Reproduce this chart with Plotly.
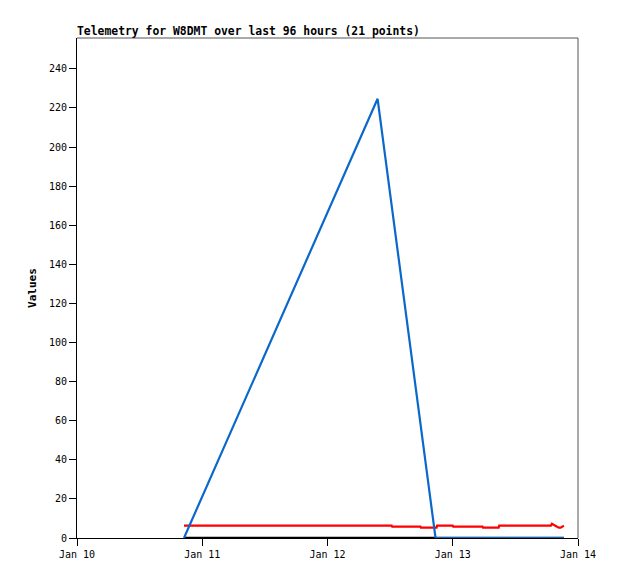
import plotly.graph_objects as go

# Data
black_times = ["2024-01-10 20:30", "2024-01-13 21:18"]
black_values = [0, 0]

blue_times = ["2024-01-10 20:30", "2024-01-12 09:36", "2024-01-12 20:42", "2024-01-13 21:18"]
blue_values = [0, 224.7, 0, 0]

red_times = ["2024-01-10 20:30", "2024-01-12 12:18", "2024-01-12 12:24", "2024-01-12 17:48",
             "2024-01-12 17:54", "2024-01-12 20:54", "2024-01-12 21:00", "2024-01-13 00:00",
             "2024-01-13 00:06", "2024-01-13 05:42", "2024-01-13 05:48", "2024-01-13 08:48",
             "2024-01-13 08:54", "2024-01-13 18:48", "2024-01-13 19:00", "2024-01-13 19:48",
             "2024-01-13 20:18", "2024-01-13 20:42", "2024-01-13 21:18"]
red_values = [6.3, 6.3, 5.8, 5.8, 5.3, 5.3, 6.3, 6.3, 5.8, 5.8, 5.3, 5.3, 6.3, 6.3,
              7.3, 5.8, 5.3, 5.3, 6.3]

x_tickvals = ["2024-01-10", "2024-01-11", "2024-01-12", "2024-01-13", "2024-01-14"]
x_ticktext = ["Jan 10", "Jan 11", "Jan 12", "Jan 13", "Jan 14"]
y_tickvals = list(range(0, 241, 20))

fig = go.Figure()
fig.add_trace(go.Scatter(x=black_times, y=black_values, mode="lines",
                         line=dict(color="#000000", width=2.5), showlegend=False))
fig.add_trace(go.Scatter(x=red_times, y=red_values, mode="lines",
                         line=dict(color="#ff0000", width=2.2), showlegend=False))
fig.add_trace(go.Scatter(x=blue_times, y=blue_values, mode="lines",
                         line=dict(color="#0a68cc", width=2.2), showlegend=False))

mono = "DejaVu Sans Mono"
fig.update_layout(
    width=618, height=579,
    margin=dict(l=77, r=40, t=38, b=41),
    paper_bgcolor="white", plot_bgcolor="white",
    title=dict(text="<b>Telemetry for W8DMT over last 96 hours (21 points)</b>",
               x=77/618, xanchor="left", y=1-31/579, yanchor="middle",
               font=dict(family=mono, size=11.4, color="black")),
    xaxis=dict(type="date", range=["2024-01-10", "2024-01-14"],
               tickvals=x_tickvals, ticktext=x_ticktext,
               ticks="outside", ticklen=7, tickcolor="black", tickwidth=1,
               showgrid=False, zeroline=False, showline=True, linecolor="black", linewidth=1,
               tickfont=dict(family=mono, size=10, color="black")),
    yaxis=dict(range=[0, 255.8], tickvals=y_tickvals,
               ticks="outside", ticklen=7, tickcolor="black", tickwidth=1,
               showgrid=False, zeroline=False, showline=True, linecolor="black", linewidth=1,
               tickfont=dict(family=mono, size=10, color="black"),
               title=dict(text="<b>Values</b>", standoff=10,
                          font=dict(family=mono, size=11, color="black"))),
    shapes=[
        dict(type="line", xref="paper", yref="paper", x0=0, x1=1, y0=1, y1=1,
             line=dict(color="#555555", width=1)),
        dict(type="line", xref="paper", yref="paper", x0=1, x1=1, y0=0, y1=1,
             line=dict(color="#555555", width=1)),
    ],
)

fig.write_html("out.html", config={"displayModeBar": False},
               post_script="document.body.style.margin='0';document.body.style.overflow='hidden';")
